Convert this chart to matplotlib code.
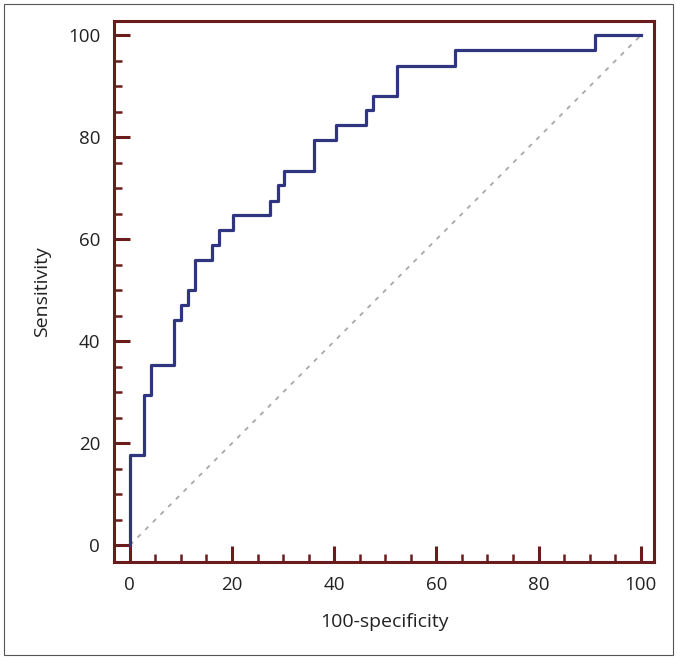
import matplotlib
matplotlib.use('Agg')
import matplotlib.pyplot as plt
from matplotlib.patches import Rectangle
from matplotlib.ticker import MultipleLocator

# данные ROC-кривой
fpr = [0, 0, 2.7, 4.1, 8.7, 10.1, 11.4, 12.7, 16.0, 17.5, 20.1, 27.4, 29.0,
       30.2, 36.0, 40.4, 46.3, 47.6, 52.2, 63.6, 91.0, 100]
tpr = [0, 17.6, 29.4, 35.3, 44.1, 47.1, 50.0, 55.9, 58.8, 61.8, 64.7, 67.6,
       70.6, 73.5, 79.4, 82.4, 85.3, 88.2, 94.1, 97.1, 100, 100]
diag = [0, 100]
major_ticks = [0, 20, 40, 60, 80, 100]

frame_color = '#6a1c1c'
curve_color = '#2f357f'
text_color = '#222222'

plt.rcParams['font.family'] = ['Open Sans', 'DejaVu Sans']

fig = plt.figure(figsize=(6.77, 6.59), dpi=100)
# рамка вокруг всей картинки
fig.patches.append(Rectangle((0.006, 0.006), 0.988, 0.988, transform=fig.transFigure,
                             fill=False, edgecolor='#555555', linewidth=0.8))

ax = fig.add_axes([0.1684, 0.1472, 0.7976, 0.8206])
ax.plot(diag, diag, color='#a8a8a8', linestyle=(0, (2.5, 3.5)), linewidth=1.3)
ax.step(fpr, tpr, where='post', color=curve_color, linewidth=2.3, zorder=3)

ax.set_xlim(-3.1, 102.6)
ax.set_ylim(-3.3, 102.8)
ax.set_xticks(major_ticks)
ax.set_yticks(major_ticks)
ax.xaxis.set_minor_locator(MultipleLocator(5))
ax.yaxis.set_minor_locator(MultipleLocator(5))

for side in ax.spines.values():
    side.set_color(frame_color)
    side.set_linewidth(2.2)

ax.tick_params(which='major', direction='in', length=11.5, width=2.2,
               color=frame_color, labelsize=13.5, labelcolor=text_color, pad=10)
ax.tick_params(which='minor', direction='in', length=5.5, width=1.8,
               color=frame_color)

ax.set_xlabel('100-specificity', fontsize=14, color=text_color, labelpad=14)
ax.set_ylabel('Sensitivity', fontsize=14, color=text_color, labelpad=12)

fig.savefig('out.png', dpi=100)
